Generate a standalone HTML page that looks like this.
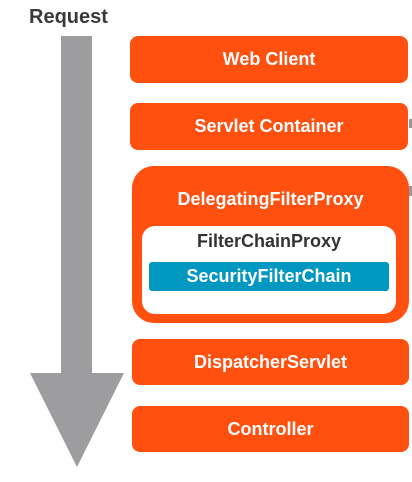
<!DOCTYPE html>
<html><head><style>
body{margin:0;width:412px;height:482px;background:#fff;position:relative;overflow:hidden;font-family:"Liberation Sans",sans-serif;}
.b{position:absolute;background:#ff5010;color:#fff;font-weight:bold;font-size:18px;text-align:center;border-radius:8px;}
</style></head><body>
<div style="position:absolute;left:29px;top:6px;font-size:20px;font-weight:bold;color:#3a3a3a;">Request</div>
<svg style="position:absolute;left:0;top:0" width="412" height="482">
<rect x="61" y="36" width="31" height="338" fill="#9d9c9f"/>
<polygon points="30,373 124,373 77,467" fill="#9d9c9f"/>
<rect x="409" y="119" width="3" height="9" fill="#999"/>
<rect x="409" y="186" width="3" height="10" fill="#999"/>
</svg>
<div class="b" style="left:130px;top:36px;width:278px;height:47px;line-height:47px;">Web Client</div>
<div class="b" style="left:130px;top:103px;width:278px;height:47px;line-height:47px;">Servlet Container</div>
<div class="b" style="left:132px;top:166px;width:277px;height:157px;border-radius:22px;">
<div style="position:absolute;left:0;right:0;top:22px;line-height:22px;">DelegatingFilterProxy</div>
<div style="position:absolute;left:10px;top:60px;width:254px;height:88px;background:#fff;border-radius:13px;">
<div style="color:#333;line-height:22px;margin-top:4px;">FilterChainProxy</div>
<div style="position:absolute;left:7px;top:36px;width:240px;height:29px;line-height:29px;background:#0097c0;border-radius:3px;color:#fff;">SecurityFilterChain</div>
</div></div>
<div class="b" style="left:132px;top:339px;width:277px;height:46px;line-height:46px;">DispatcherServlet</div>
<div class="b" style="left:132px;top:406px;width:277px;height:46px;line-height:46px;">Controller</div>
</body></html>
